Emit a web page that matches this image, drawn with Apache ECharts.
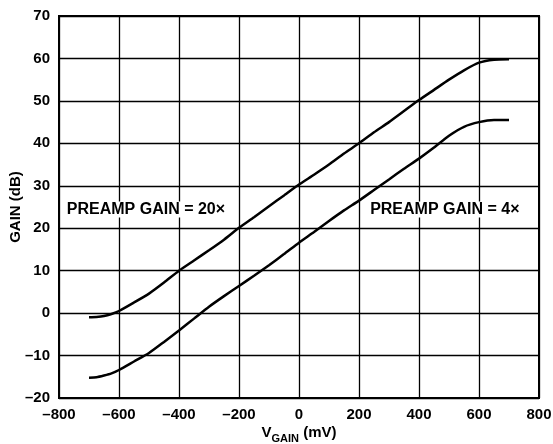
<!DOCTYPE html>
<html>
<head>
<meta charset="utf-8">
<script src="https://cdn.jsdelivr.net/npm/echarts@6/dist/echarts.min.js"></script>
<style>html,body{margin:0;padding:0;background:#fff}#c{width:553px;height:444px}</style>
</head>
<body>
<div id="c"></div>
<script>
var vGain = [-700,-675,-650,-625,-600,-550,-500,-450,-400,-350,-300,-250,-200,-150,-100,-50,0,50,100,150,200,250,300,350,400,450,500,550,600,650,700];
var gain20 = [-0.95,-0.9,-0.7,-0.2,0.5,2.5,4.6,7.2,10.0,12.4,14.8,17.3,20.1,22.6,25.2,27.7,30.3,32.6,35.0,37.6,40.0,42.6,45.0,47.6,50.2,52.6,55.0,57.2,59.0,59.7,59.8];
var gain4 = [-15.2,-15.1,-14.7,-14.2,-13.4,-11.4,-9.4,-6.8,-4.1,-1.3,1.5,4.0,6.4,8.8,11.3,13.9,16.6,19.1,21.7,24.2,26.5,29.0,31.5,34.0,36.4,39.0,41.8,43.9,45.0,45.5,45.5];
var xTicks = [-800,-600,-400,-200,0,200,400,600,800];
var yTicks = [-20,-10,0,10,20,30,40,50,60,70];
var labels = [
  {text: 'PREAMP GAIN = 20×', x: -774, y: 24.4, align: 'left'},
  {text: 'PREAMP GAIN = 4×', x: 735, y: 24.4, align: 'right'}
];

function pairs(xs, ys){ return xs.map(function(x,i){ return [x, ys[i]]; }); }
function fmt(v){ return v < 0 ? '\u2013' + Math.abs(v) : String(v); }

var FONT = '"Liberation Sans", Arial, sans-serif';
var chart = echarts.init(document.getElementById('c'), null, {renderer: 'canvas'});
var option = {
  animation: false,
  backgroundColor: '#fff',
  grid: {left: 59, right: 14, top: 16, bottom: 46, show: true, borderColor: '#000', borderWidth: 2, backgroundColor: 'transparent', containLabel: false, outerBoundsMode: 'none'},
  xAxis: {
    type: 'value', min: xTicks[0], max: xTicks[xTicks.length-1], interval: 200,
    axisLine: {show: true, onZero: false, lineStyle: {color: '#000', width: 2}},
    axisTick: {show: false},
    splitLine: {show: true, lineStyle: {color: '#000', width: 1.3}},
    axisLabel: {color: '#000', fontFamily: FONT, fontWeight: 'bold', fontSize: 15, margin: 9, formatter: fmt},
    name: '{v|V}{s|GAIN}{u| (mV)}',
    nameLocation: 'middle', nameGap: 24, nameMoveOverlap: false,
    nameTextStyle: {
      color: '#000', fontFamily: FONT, fontWeight: 'bold',
      rich: {
        v: {fontFamily: FONT, fontWeight: 'bold', fontSize: 15, color: '#000', lineHeight: 22, verticalAlign: 'middle'},
        s: {fontFamily: FONT, fontWeight: 'bold', fontSize: 11, color: '#000', lineHeight: 11, verticalAlign: 'bottom'},
        u: {fontFamily: FONT, fontWeight: 'bold', fontSize: 15, color: '#000', lineHeight: 22, verticalAlign: 'middle'}
      }
    }
  },
  yAxis: {
    type: 'value', min: yTicks[0], max: yTicks[yTicks.length-1], interval: 10,
    axisLine: {show: true, onZero: false, lineStyle: {color: '#000', width: 2}},
    axisTick: {show: false},
    splitLine: {show: true, lineStyle: {color: '#000', width: 1.3}},
    axisLabel: {color: '#000', fontFamily: FONT, fontWeight: 'bold', fontSize: 15, margin: 9, formatter: fmt},
    name: 'GAIN (dB)', nameLocation: 'middle', nameGap: 36, nameMoveOverlap: false,
    nameTextStyle: {color: '#000', fontFamily: FONT, fontWeight: 'bold', fontSize: 15}
  },
  series: [
    {type: 'line', data: pairs(vGain, gain20), showSymbol: false, smooth: 0.2, lineStyle: {color: '#000', width: 2.5}},
    {type: 'line', data: pairs(vGain, gain4), showSymbol: false, smooth: 0.2, lineStyle: {color: '#000', width: 2.5}}
  ]
};
chart.setOption(option);
var g = labels.map(function(l){
  var p = chart.convertToPixel({gridIndex: 0}, [l.x, l.y]);
  return {type: 'text', x: p[0], y: p[1], z: 100,
    style: {text: l.text, fill: '#000', font: 'bold 16px ' + FONT, textAlign: l.align, textVerticalAlign: 'middle', backgroundColor: '#fff'}};
});
chart.setOption({graphic: g});
</script>
</body>
</html>
